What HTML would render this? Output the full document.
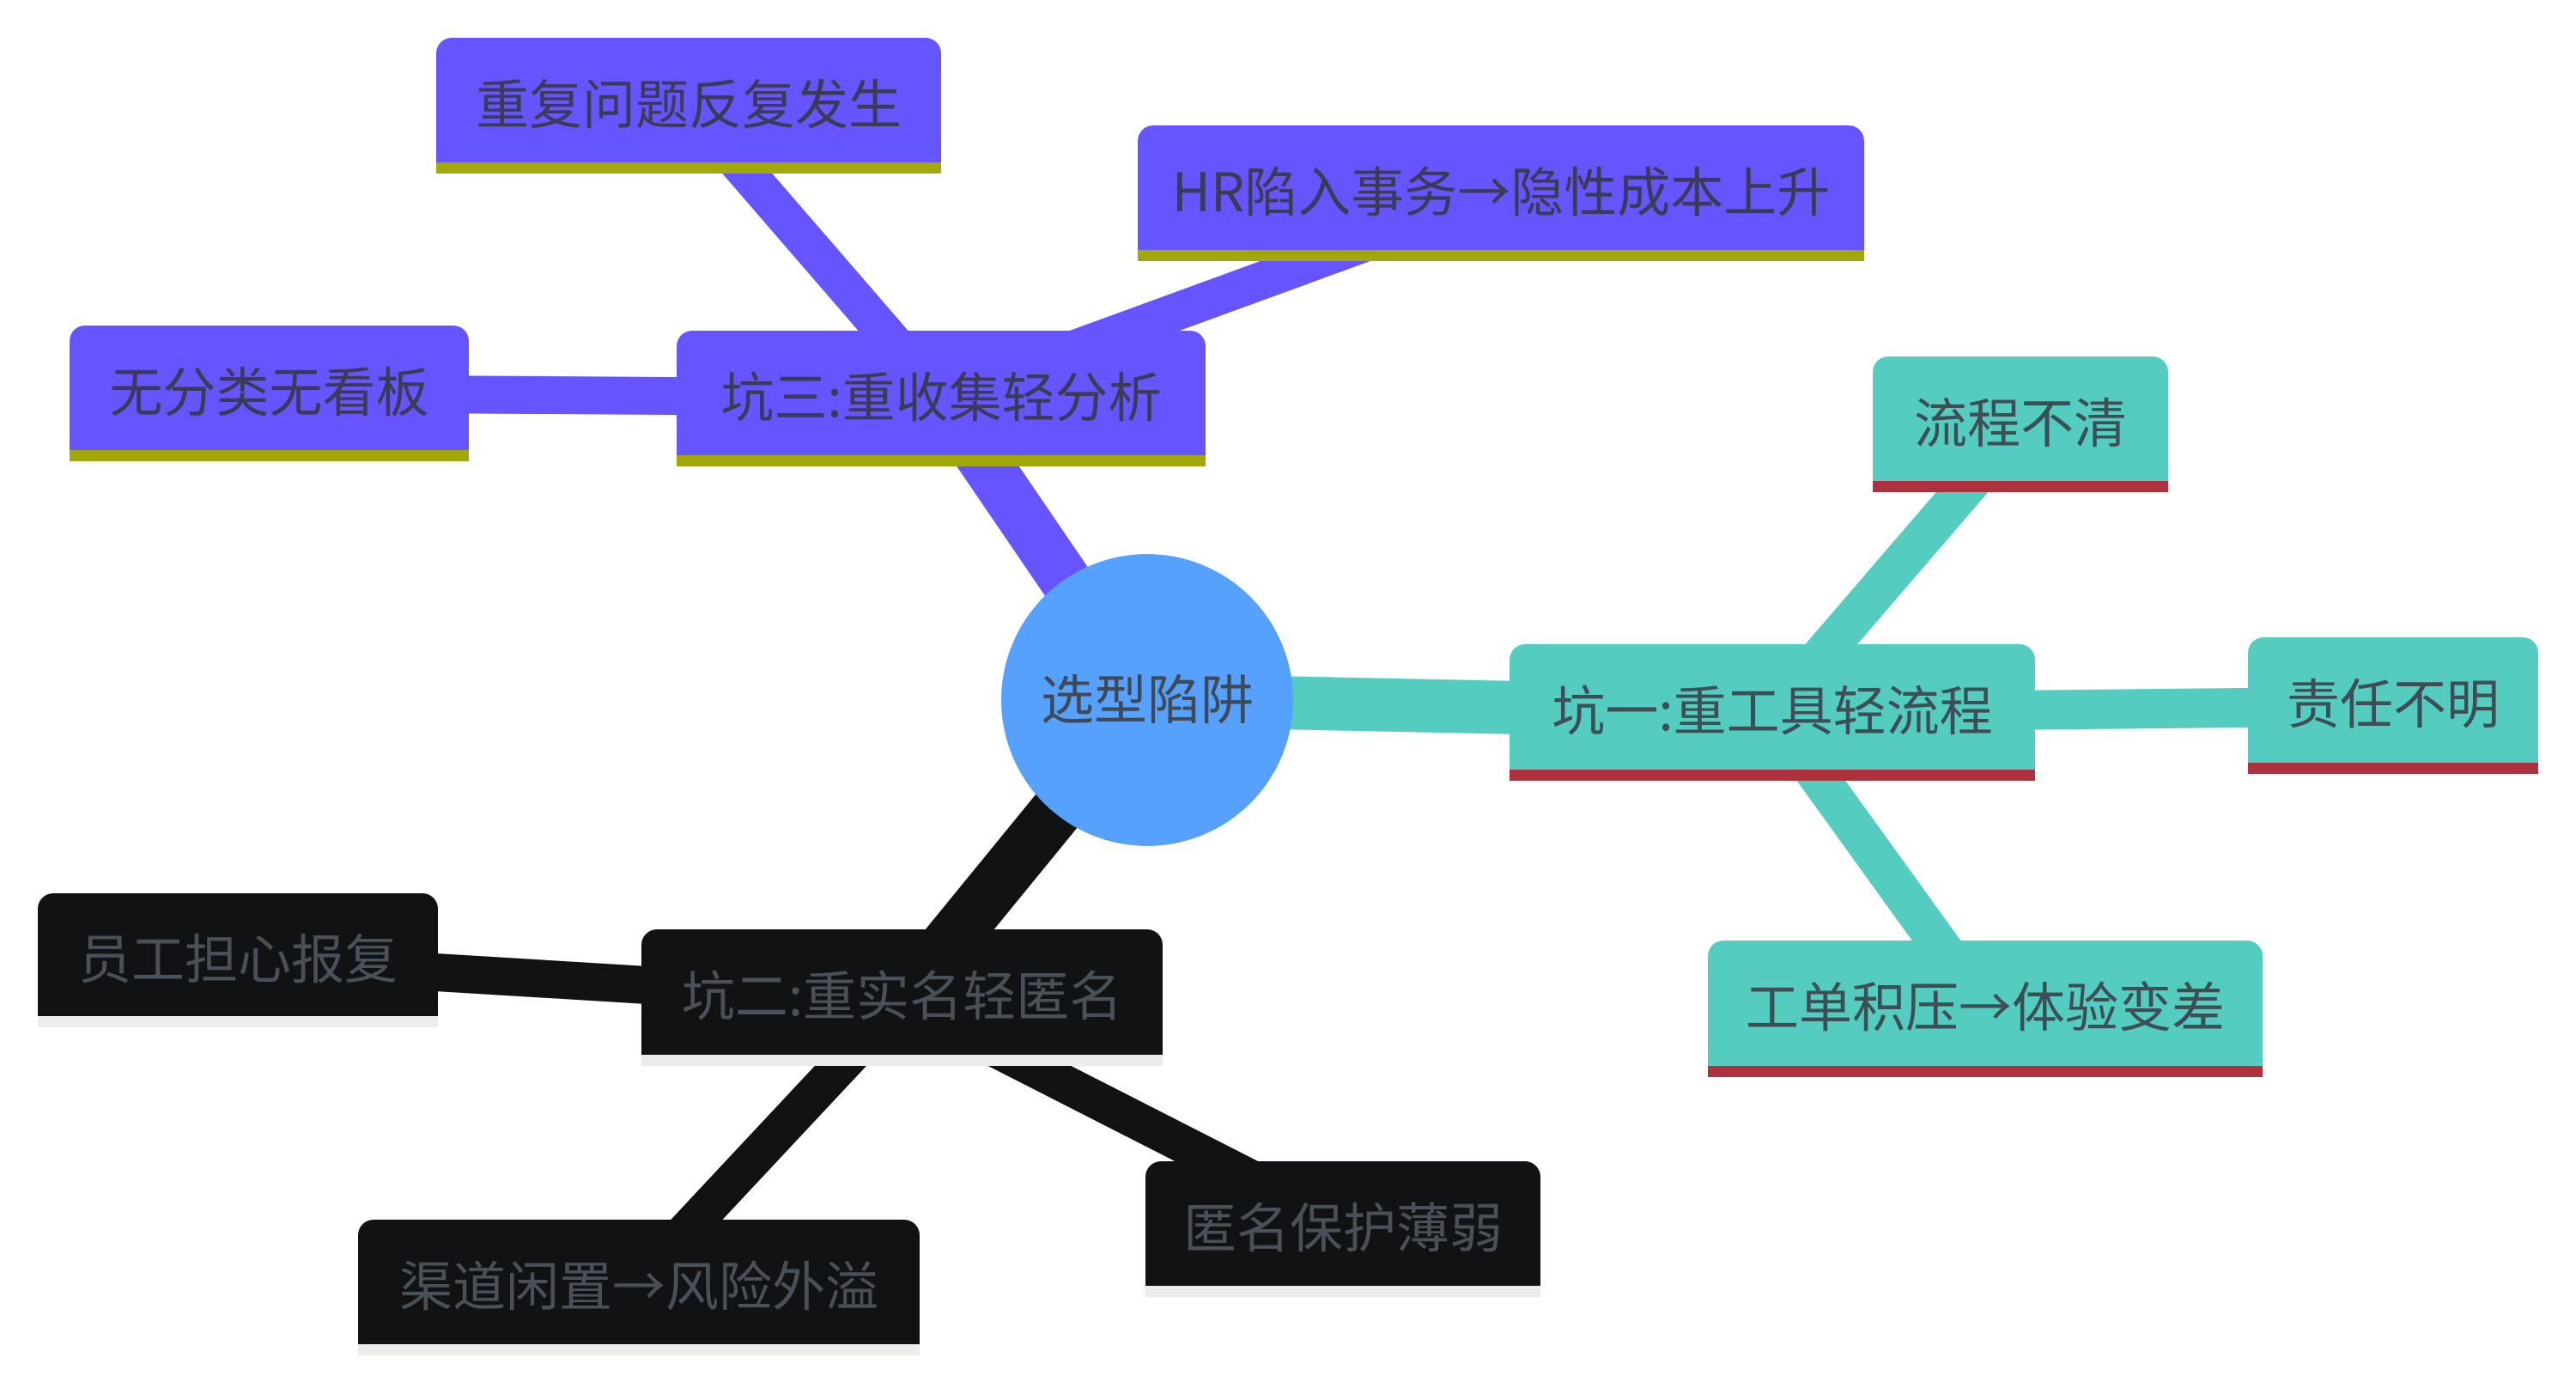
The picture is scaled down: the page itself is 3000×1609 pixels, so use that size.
<!DOCTYPE html>
<html><head><meta charset="utf-8"><style>
body{margin:0;width:3000px;height:1609px;background:#fff;position:relative;overflow:hidden;font-family:"Noto Sans CJK SC","Liberation Sans",sans-serif;}
.n{position:absolute;box-sizing:border-box;border-radius:18px 18px 0 0;display:flex;align-items:center;justify-content:center;font-size:62px;white-space:nowrap;}
.p{background:#6655ff;border-bottom:13px solid #a3a80a;color:#3b3b55;}
.t{background:#54cdc0;border-bottom:13px solid #ad323e;color:#3d4f55;}
.b{background:#111214;border-bottom:13px solid #eeecea;color:#4a5058;}
svg{position:absolute;left:0;top:0}
</style></head><body>
<svg width="3000" height="1609" stroke-linecap="butt">
<g stroke="#6655ff">
<line x1="1336" y1="815" x2="1096" y2="463" stroke-width="60"/>
<line x1="1096" y1="463" x2="802" y2="123" stroke-width="44"/>
<line x1="1096" y1="463" x2="1748" y2="225" stroke-width="44"/>
<line x1="1096" y1="463" x2="313" y2="458" stroke-width="44"/>
</g>
<g stroke="#54cdc0">
<line x1="1336" y1="815" x2="2064" y2="830" stroke-width="62"/>
<line x1="2064" y1="830" x2="2353" y2="494" stroke-width="46"/>
<line x1="2064" y1="830" x2="2787" y2="822" stroke-width="46"/>
<line x1="2064" y1="830" x2="2312" y2="1174" stroke-width="46"/>
</g>
<g stroke="#111214">
<line x1="1336" y1="815" x2="1050" y2="1165" stroke-width="62"/>
<line x1="1050" y1="1165" x2="277" y2="1118" stroke-width="44"/>
<line x1="1050" y1="1165" x2="1560" y2="1425" stroke-width="44"/>
<line x1="1050" y1="1165" x2="744" y2="1492" stroke-width="44"/>
</g>
<circle cx="1336" cy="815" r="170" fill="#57a1fe"/>
<text x="1336" y="837" font-size="62" fill="#3f4a55" text-anchor="middle" font-family="Noto Sans CJK SC, Liberation Sans, sans-serif">选型陷阱</text>
</svg>
<div class="n p" style="left:508px;top:44px;width:588px;height:158px">重复问题反复发生</div>
<div class="n p" style="left:1325px;top:146px;width:846px;height:158px">HR陷入事务→隐性成本上升</div>
<div class="n p" style="left:81px;top:379px;width:465px;height:158px">无分类无看板</div>
<div class="n p" style="left:788px;top:385px;width:616px;height:158px">坑三:重收集轻分析</div>
<div class="n t" style="left:2181px;top:415px;width:344px;height:158px">流程不清</div>
<div class="n t" style="left:1758px;top:750px;width:612px;height:159px">坑一:重工具轻流程</div>
<div class="n t" style="left:2618px;top:742px;width:338px;height:159px">责任不明</div>
<div class="n t" style="left:1989px;top:1095px;width:646px;height:159px">工单积压→体验变差</div>
<div class="n b" style="left:44px;top:1040px;width:466px;height:156px">员工担心报复</div>
<div class="n b" style="left:747px;top:1082px;width:607px;height:159px">坑二:重实名轻匿名</div>
<div class="n b" style="left:1334px;top:1352px;width:460px;height:158px">匿名保护薄弱</div>
<div class="n b" style="left:417px;top:1420px;width:654px;height:158px">渠道闲置→风险外溢</div>
</body></html>
